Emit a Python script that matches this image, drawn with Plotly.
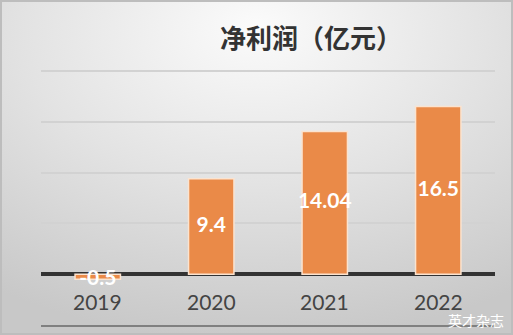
import plotly.graph_objects as go
import urllib.parse

years = ["2019", "2020", "2021", "2022"]
profit = [-0.5, 9.4, 14.04, 16.5]
label_text = ["-0.5", "9.4", "14.04", "16.5"]
title_text = "净利润（亿元）"
watermark = "英才杂志"

L, R, T, B = 41, 18, 70, 10
W, H = 513, 335
PW, PH = W - L - R, H - T - B


def px(x):
    return (x - L) / PW


def py(y):
    return (H - B - y) / PH


svg = ('<svg xmlns="http://www.w3.org/2000/svg" width="513" height="335">'
       '<defs><radialGradient id="g" cx="0.5" cy="0.12" r="0.9" fx="0.5" fy="0.08">'
       '<stop offset="0" stop-color="#fbfbfb"/><stop offset="0.5" stop-color="#e3e3e3"/>'
       '<stop offset="1" stop-color="#c8c8c8"/></radialGradient></defs>'
       '<rect width="513" height="335" fill="url(#g)"/>'
       '<rect x="1" y="1" width="511" height="333" fill="none" stroke="#bdbdbd" stroke-width="2"/>'
       '</svg>')
bg_uri = "data:image/svg+xml;charset=utf-8," + urllib.parse.quote(svg)

fig = go.Figure()
fig.add_trace(go.Bar(
    x=years, y=profit,
    marker=dict(color="#EA8A48", line=dict(color="#fbe3cf", width=1.5)),
    width=0.4, hoverinfo="skip",
))
fig.add_trace(go.Scatter(
    x=years, y=[v / 2 if v > 0 else v for v in profit],
    mode="text", text=label_text,
    textfont=dict(family="Lato, Noto Sans, sans-serif", size=21, color="white", weight="bold"),
    textposition="middle center", hoverinfo="skip",
))

for i, yr in enumerate(years):
    fig.add_annotation(x=i, y=-2.65, xref="x", yref="y", text=yr, showarrow=False,
                       font=dict(family="Lato, Noto Sans, sans-serif", size=21, color="#444444"))

fig.add_annotation(x=px(311), y=py(36), xref="paper", yref="paper", text=title_text,
                   showarrow=False, xanchor="center", yanchor="middle",
                   font=dict(family="Noto Sans CJK SC", size=26, color="#333333", weight="bold"))

fig.add_annotation(x=px(506), y=py(320), xref="paper", yref="paper", text=watermark,
                   showarrow=False, xanchor="right", yanchor="middle",
                   font=dict(family="Noto Sans CJK SC", size=14, color="#ffffff"))

fig.update_layout(
    width=W, height=H,
    margin=dict(l=L, r=R, t=T, b=B),
    paper_bgcolor="#dcdcdc", plot_bgcolor="rgba(0,0,0,0)",
    showlegend=False,
    images=[dict(source=bg_uri, xref="paper", yref="paper", x=-L / PW, y=1 + T / PH,
                 sizex=W / PW, sizey=H / PH, xanchor="left", yanchor="top",
                 sizing="stretch", layer="below")],
    xaxis=dict(type="category", range=[-0.5, len(years) - 0.5], showticklabels=False,
               showgrid=False, showline=True, linecolor="#808080", linewidth=2, ticks="",
               fixedrange=True),
    yaxis=dict(range=[-5, 20.1], tick0=0, dtick=5, showticklabels=False, showgrid=True,
               gridcolor="#d2d2d2", gridwidth=2, zeroline=True, zerolinecolor="#333333",
               zerolinewidth=4, ticks=""),
)

fig.write_html("out.html")
